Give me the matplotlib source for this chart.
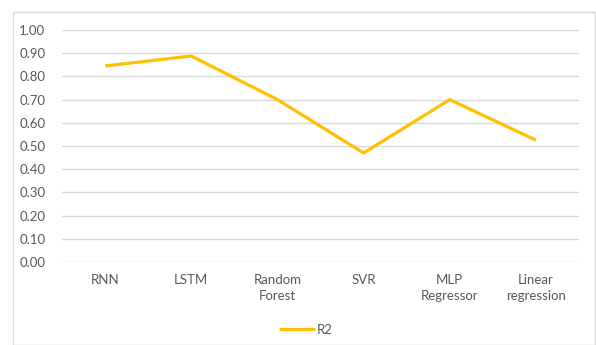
import matplotlib.pyplot as plt
from matplotlib.patches import Rectangle

models = ["RNN", "LSTM", "Random\nForest", "SVR", "MLP\nRegressor", "Linear\nregression"]
r2 = [0.845, 0.888, 0.70, 0.47, 0.70, 0.525]
yticks = [0.0, 0.1, 0.2, 0.3, 0.4, 0.5, 0.6, 0.7, 0.8, 0.9, 1.0]

W, H = 596, 345
plt.rcParams["font.family"] = ["Lato", "DejaVu Sans"]
fig = plt.figure(figsize=(W / 100, H / 100), dpi=100)

# outer chart-area border
fig.add_artist(Rectangle((12.5 / W, 0), (595 - 12.5) / W, 1 - 12 / H,
                         transform=fig.transFigure, fill=False,
                         edgecolor="#D9D9D9", linewidth=1))

ax = fig.add_axes([62 / W, 83 / H, 517 / W, 232 / H])
x = range(len(models))
ax.plot(x, r2, color="#FFC000", linewidth=2.3, solid_capstyle="butt", label="R2")

ax.set_xlim(-0.5, len(models) - 0.5)
ax.set_ylim(0, 1.0)
ax.set_yticks(yticks)
ax.set_yticklabels([f"{v:.2f}" for v in yticks])
ax.set_xticks(list(x))
ax.set_xticklabels(models, linespacing=1.35)
ax.yaxis.grid(True, color="#D9D9D9", linewidth=1)
ax.set_axisbelow(True)
for s in ax.spines.values():
    s.set_visible(False)
ax.tick_params(axis="y", length=0, pad=12, labelsize=9.5, labelcolor="#595959")
ax.tick_params(axis="x", length=0, pad=9, labelsize=9.5, labelcolor="#595959")

fig.legend(loc="center", bbox_to_anchor=(306 / W, 1 - 330 / H), frameon=False,
           handlelength=2.7, handletextpad=0.2, fontsize=9.5, labelcolor="#595959")

fig.savefig("out.png", dpi=100)
